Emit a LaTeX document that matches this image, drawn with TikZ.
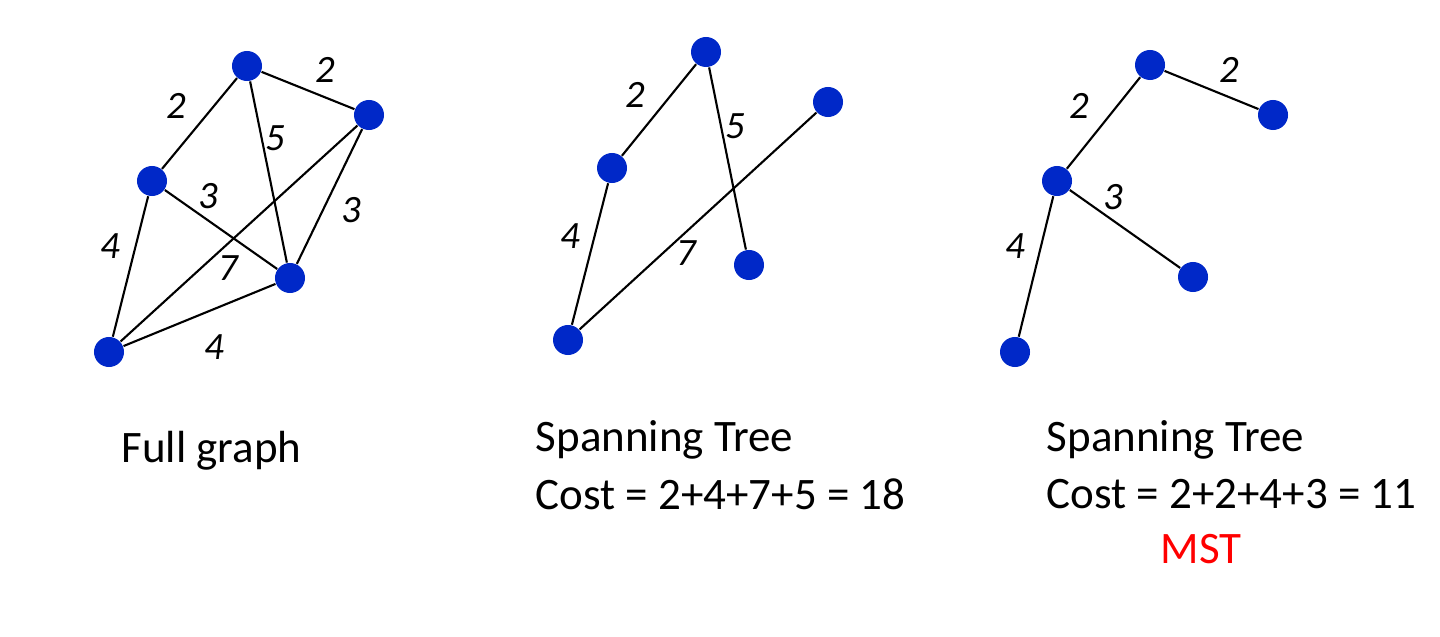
\documentclass[tikz,border=0pt]{standalone}
\usepackage{fontspec}
\setmainfont{Carlito}
\usetikzlibrary{positioning}
\definecolor{vblue}{RGB}{0,40,200}
\tikzset{
	vtx/.style={circle, fill=vblue, inner sep=0pt, minimum size=0.3cm},
	edge/.style={semithick},
	wt/.style={font=\itshape\fontsize{11}{13}\selectfont, inner sep=1pt},
	caption/.style={font=\fontsize{12.8}{15}\selectfont, anchor=west, inner sep=0pt}
}
\begin{document}
\begin{tikzpicture}[x=0.01cm, y=-0.01cm]
		
		% ---------------------
		% Proper size --- Bounding box
		\useasboundingbox (0,0) rectangle (1440,637);
		
		% ---------------------
		% Full graph
		\node[vtx] (FA) at (247,66) {};
		\node[vtx] (FB) at (369,115) {};
		\node[vtx] (FC) at (152,181) {};
		\node[vtx] (FD) at (290,278) {};
		\node[vtx] (FE) at (109,352) {};
		
		\draw[edge] (FA) -- (FB);
		\draw[edge] (FA) -- (FC);
		\draw[edge] (FA) -- (FD);
		\draw[edge] (FC) -- (FD);
		\draw[edge] (FB) -- (FE);
		\draw[edge] (FB) -- (FD);
		\draw[edge] (FC) -- (FE);
		\draw[edge] (FE) -- (FD);
		
		\node[wt] at (325,70) {2};
		\node[wt] at (176,106) {2};
		\node[wt] at (275,138) {5};
		\node[wt] at (208,196) {3};
		\node[wt] at (228,268) {7};
		\node[wt] at (351,210) {3};
		\node[wt] at (110,246) {4};
		\node[wt] at (214,347) {4};
		
		\node[caption] (FullLbl) at (121,451) {Full graph};
		
		% ---------------------
		% Spanning tree
		\node[vtx] (SA) at (706,52) {};
		\node[vtx] (SB) at (828,102) {};
		\node[vtx] (SC) at (612,168) {};
		\node[vtx] (SD) at (749,265) {};
		\node[vtx] (SE) at (568,340) {};
		
		\draw[edge] (SA) -- (SC);
		\draw[edge] (SA) -- (SD);
		\draw[edge] (SC) -- (SE);
		\draw[edge] (SE) -- (SB);
		
		\node[wt] at (635,95) {2};
		\node[wt] at (735,126) {5};
		\node[wt] at (570,236) {4};
		\node[wt] at (686,253) {7};
		
		\node[caption] (SpanLbl) at (535,440) {Spanning Tree};
		\node[caption] (SpanCost) at (535,494) {Cost = 2+4+7+5 = 18};
		
		% ---------------------
		% Minimum spanning tree
		\node[vtx] (MA) at (1150,65) {};
		\node[vtx] (MB) at (1273,115) {};
		\node[vtx] (MC) at (1057,181) {};
		\node[vtx] (MD) at (1193,277) {};
		\node[vtx] (ME) at (1015,352) {};
		
		\draw[edge] (MA) -- (MB);
		\draw[edge] (MA) -- (MC);
		\draw[edge] (MC) -- (MD);
		\draw[edge] (MC) -- (ME);
		
		\node[wt] at (1229,70) {2};
		\node[wt] at (1079,106) {2};
		\node[wt] at (1113,197) {3};
		\node[wt] at (1015,246) {4};
		
		\node[caption] (MstLbl) at (1046,440) {Spanning Tree};
		\node[caption] (MstCost) at (1046,494) {Cost = 2+2+4+3 = 11};
		\node[font=\fontsize{12.8}{15}\selectfont, text=red, inner sep=0pt] (MstName) at (1201,549) {MST};
		
\end{tikzpicture}
\end{document}
